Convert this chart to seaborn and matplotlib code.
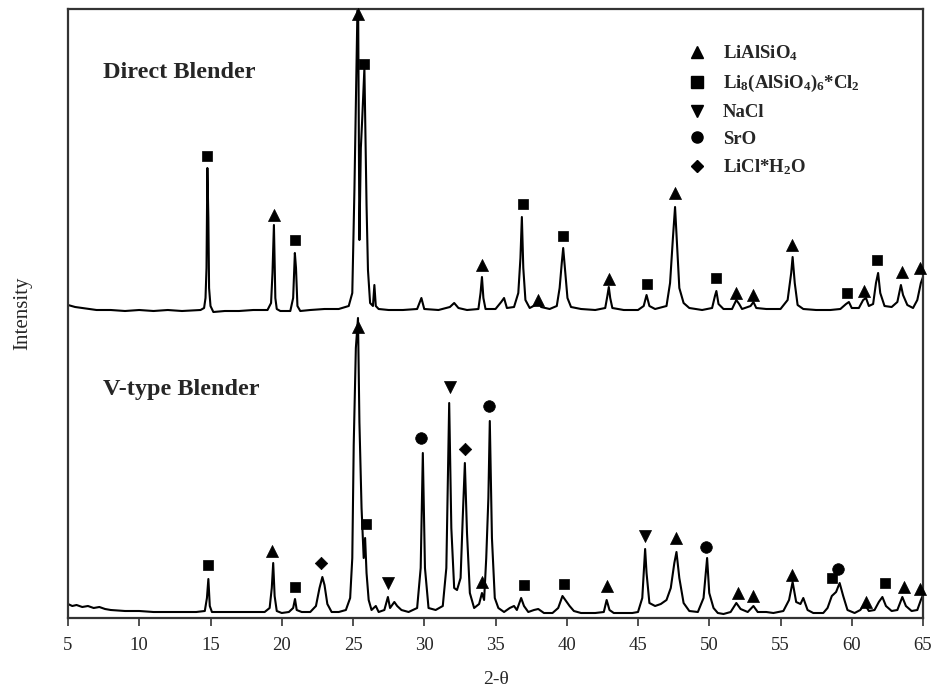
import matplotlib
matplotlib.use("Agg")
import matplotlib.pyplot as plt
from matplotlib.lines import Line2D
import seaborn as sns
import pandas as pd

# ---------------- data ----------------
direct_x = [5.0, 5.5, 6.0, 7.0, 8.0, 9.0, 10.0, 11.0, 12.0, 13.0, 14.3, 14.55, 14.65, 14.72, 14.78, 14.85, 14.9, 15.0, 15.2,
            16.0, 17.0, 18.0, 19.0, 19.25, 19.35, 19.45, 19.55, 19.65, 19.9, 20.6, 20.8, 20.92, 21.0, 21.1, 21.3,
            22.0, 23.0, 24.0, 24.7, 24.95, 25.1, 25.25, 25.35, 25.45, 25.55, 25.65, 25.8, 25.95, 26.05, 26.2, 26.4,
            26.5, 26.6, 26.8, 27.5, 28.5, 29.5, 29.8, 30.0, 31.0, 31.8, 32.1, 32.4, 33.0, 33.8, 33.95, 34.05, 34.15,
            34.3, 35.0, 35.4, 35.6, 35.8, 36.3, 36.6, 36.75, 36.85, 36.95, 37.1, 37.4, 37.8, 38.0, 38.2, 38.8, 39.3,
            39.5, 39.65, 39.75, 39.9, 40.05, 40.3, 41.0, 42.0, 42.7, 42.85, 42.95, 43.05, 43.2, 44.0, 45.0, 45.4,
            45.6, 45.8, 46.2, 47.0, 47.25, 47.45, 47.6, 47.75, 47.9, 48.2, 48.6, 49.5, 50.2, 50.4, 50.5, 50.65,
            51.0, 51.6, 51.9, 52.1, 52.3, 52.9, 53.1, 53.3, 54.0, 55.0, 55.5, 55.75, 55.85, 56.0, 56.2, 56.6, 57.5,
            58.5, 59.2, 59.6, 59.8, 60.0, 60.5, 60.8, 61.0, 61.2, 61.5, 61.7, 61.85, 62.0, 62.3, 62.8, 63.2, 63.45,
            63.6, 63.9, 64.3, 64.6, 64.85, 65.0]
direct_y = [313, 311, 310, 308, 308, 307, 308, 307, 308, 307, 308, 310, 320, 350, 450, 400, 330, 312, 306,
            307, 307, 308, 308, 315, 345, 393, 320, 309, 307, 307, 320, 365, 350, 312, 307,
            308, 309, 309, 312, 325, 428, 560, 640, 378, 470, 500, 550, 413, 348, 315, 312,
            333, 312, 309, 308, 308, 309, 320, 309, 308, 311, 315, 310, 308, 309, 325, 341, 320,
            309, 309, 316, 320, 310, 311, 325, 360, 401, 350, 318, 310, 313, 318, 311, 309, 312,
            330, 355, 370, 345, 320, 311, 309, 308, 310, 322, 331, 320, 310, 308, 308, 312,
            323, 312, 309, 312, 335, 380, 411, 370, 330, 315, 310, 308, 310, 322, 327, 314,
            309, 309, 318, 314, 309, 312, 316, 310, 309, 309, 318, 345, 361, 335, 313, 309, 308,
            308, 309, 314, 316, 310, 310, 318, 320, 312, 314, 335, 345, 325, 312, 311, 316, 333,
            323, 313, 310, 318, 335, 341]

vtype_x = [5.0, 5.3, 5.6, 6.0, 6.4, 6.8, 7.2, 7.6, 8.0, 9.0, 10.0, 11.0, 12.0, 13.0, 14.0, 14.6, 14.75, 14.85, 14.95,
           15.1, 16.0, 17.0, 18.0, 18.8, 19.15, 19.3, 19.4, 19.5, 19.65, 20.0, 20.5, 20.8, 20.93, 21.05, 21.4,
           22.0, 22.4, 22.65, 22.85, 23.0, 23.2, 23.5, 24.0, 24.5, 24.8, 24.95, 25.05, 25.2, 25.35, 25.45, 25.6,
           25.75, 25.85, 25.95, 26.1, 26.3, 26.6, 26.8, 27.2, 27.45, 27.6, 27.9, 28.1, 28.4, 28.9, 29.5, 29.75,
           29.9, 30.05, 30.3, 30.8, 31.3, 31.55, 31.75, 31.9, 32.1, 32.3, 32.55, 32.7, 32.85, 33.0, 33.2, 33.5,
           33.85, 34.05, 34.2, 34.35, 34.5, 34.6, 34.75, 34.95, 35.2, 35.6, 36.0, 36.3, 36.5, 36.8, 37.0, 37.3,
           37.7, 38.0, 38.4, 39.0, 39.4, 39.7, 39.9, 40.2, 40.5, 41.0, 42.0, 42.6, 42.8, 43.0, 43.3, 44.0, 44.6,
           45.0, 45.3, 45.5, 45.6, 45.8, 46.2, 46.6, 47.0, 47.3, 47.55, 47.7, 47.9, 48.2, 48.6, 49.2, 49.6, 49.85,
           50.0, 50.3, 50.6, 51.0, 51.5, 51.9, 52.2, 52.7, 53.1, 53.4, 54.0, 54.5, 55.2, 55.6, 55.85, 56.1, 56.4,
           56.6, 56.9, 57.3, 58.0, 58.3, 58.6, 58.9, 59.15, 59.4, 59.7, 60.2, 60.6, 60.9, 61.2, 61.6, 61.9, 62.15,
           62.4, 62.8, 63.2, 63.55, 63.8, 64.2, 64.6, 64.85, 65.0]
vtype_y = [14, 12, 13, 11, 12, 10, 11, 9, 8, 7, 7, 6, 6, 6, 6, 7, 20, 39, 12,
           6, 6, 6, 6, 6, 10, 30, 55, 22, 7, 5, 6, 10, 19, 8, 6,
           6, 12, 30, 41, 33, 14, 6, 6, 8, 20, 60, 173, 270, 300, 196, 110,
           60, 80, 45, 18, 8, 12, 6, 8, 21, 10, 16, 12, 8, 6, 10, 50,
           165, 50, 10, 8, 12, 50, 215, 90, 30, 28, 40, 100, 155, 85, 25, 10,
           14, 25, 18, 60, 120, 197, 80, 20, 10, 6, 10, 12, 8, 20, 12, 6,
           8, 9, 5, 5, 10, 22, 18, 12, 7, 5, 5, 6, 18, 8, 5, 5, 5,
           6, 20, 69, 45, 15, 12, 14, 18, 30, 55, 66, 40, 15, 7, 6, 20, 60,
           25, 10, 5, 4, 6, 15, 9, 6, 12, 6, 6, 5, 7, 18, 36, 16, 14,
           20, 8, 5, 5, 10, 22, 26, 35, 22, 8, 5, 8, 14, 7, 8, 16, 21,
           12, 7, 8, 21, 12, 7, 8, 18, 23]

phases = ["LiAlSiO4", "Li8(AlSiO4)6*Cl2", "NaCl", "SrO", "LiCl*H2O"]
phase_labels = [r"LiAlSiO$_{4}$", r"Li$_{8}$(AlSiO$_{4}$)$_{6}$*Cl$_{2}$", "NaCl", "SrO", r"LiCl*H$_{2}$O"]

direct_mark_phase = ["Li8(AlSiO4)6*Cl2", "LiAlSiO4", "Li8(AlSiO4)6*Cl2", "LiAlSiO4", "Li8(AlSiO4)6*Cl2",
                     "LiAlSiO4", "Li8(AlSiO4)6*Cl2", "LiAlSiO4", "Li8(AlSiO4)6*Cl2", "LiAlSiO4",
                     "Li8(AlSiO4)6*Cl2", "LiAlSiO4", "Li8(AlSiO4)6*Cl2", "LiAlSiO4", "LiAlSiO4",
                     "LiAlSiO4", "Li8(AlSiO4)6*Cl2", "LiAlSiO4", "Li8(AlSiO4)6*Cl2", "LiAlSiO4", "LiAlSiO4"]
direct_mark_x = [14.75, 19.45, 20.93, 25.35, 25.75, 34.05, 36.9, 38.0, 39.75, 42.95,
                 45.6, 47.6, 50.5, 51.9, 53.1, 55.8, 59.7, 60.85, 61.8, 63.5, 64.8]
direct_mark_y = [462, 403, 378, 604, 554, 353, 414, 318, 382, 339,
                 334, 425, 340, 325, 323, 373, 325, 327, 358, 346, 350]

vtype_mark_phase = ["Li8(AlSiO4)6*Cl2", "LiAlSiO4", "Li8(AlSiO4)6*Cl2", "LiCl*H2O", "LiAlSiO4",
                    "Li8(AlSiO4)6*Cl2", "NaCl", "SrO", "NaCl", "LiCl*H2O", "LiAlSiO4", "SrO",
                    "Li8(AlSiO4)6*Cl2", "Li8(AlSiO4)6*Cl2", "LiAlSiO4", "NaCl", "LiAlSiO4", "SrO",
                    "LiAlSiO4", "LiAlSiO4", "LiAlSiO4", "Li8(AlSiO4)6*Cl2", "SrO", "LiAlSiO4",
                    "Li8(AlSiO4)6*Cl2", "LiAlSiO4", "LiAlSiO4"]
vtype_mark_x = [14.85, 19.35, 20.93, 22.75, 25.35, 25.9, 27.45, 29.77, 31.8, 32.86, 34.05, 34.55,
                37.0, 39.8, 42.85, 45.5, 47.7, 49.8, 52.0, 53.1, 55.8, 58.6, 59.0, 61.0,
                62.3, 63.7, 64.8]
vtype_mark_y = [53, 67, 31, 55, 291, 94, 35, 180, 231, 169, 36, 212,
                33, 34, 32, 82, 80, 71, 25, 22, 43, 40, 49, 16,
                35, 31, 29]

x_ticks = [5, 10, 15, 20, 25, 30, 35, 40, 45, 50, 55, 60, 65]

# ---------------- styling ----------------
sns.set_style("white")
plt.rcParams["font.family"] = ["Liberation Serif", "DejaVu Serif"]
plt.rcParams["mathtext.fontset"] = "custom"
plt.rcParams["mathtext.rm"] = "Liberation Serif:bold"
plt.rcParams["mathtext.it"] = "Liberation Serif:bold"
plt.rcParams["mathtext.bf"] = "Liberation Serif:bold"

marker_map = {"LiAlSiO4": "^", "Li8(AlSiO4)6*Cl2": "s", "NaCl": "v", "SrO": "o", "LiCl*H2O": "D"}
size_map = {"LiAlSiO4": 75, "Li8(AlSiO4)6*Cl2": 60, "NaCl": 75, "SrO": 70, "LiCl*H2O": 40}

fig = plt.figure(figsize=(9.32, 6.95), dpi=100)
ax = fig.add_axes([68 / 932, 1 - 618 / 695, (923 - 68) / 932, (618 - 9) / 695])

trace = pd.concat([
    pd.DataFrame({"two_theta": direct_x, "intensity": direct_y, "sample": "Direct Blender"}),
    pd.DataFrame({"two_theta": vtype_x, "intensity": vtype_y, "sample": "V-type Blender"}),
])
for name, sub in trace.groupby("sample"):
    sns.lineplot(data=sub, x="two_theta", y="intensity", ax=ax, color="black",
                 linewidth=1.5, estimator=None, sort=False, legend=False)

marks = pd.concat([
    pd.DataFrame({"two_theta": direct_mark_x, "intensity": direct_mark_y, "phase": direct_mark_phase}),
    pd.DataFrame({"two_theta": vtype_mark_x, "intensity": vtype_mark_y, "phase": vtype_mark_phase}),
])
for ph in phases:
    sub = marks[marks["phase"] == ph]
    sns.scatterplot(data=sub, x="two_theta", y="intensity", ax=ax, color="black",
                    marker=marker_map[ph], s=size_map[ph], edgecolor="black",
                    linewidth=0.5, legend=False, clip_on=False, zorder=5)

ax.set_xlim(5, 65)
ax.set_ylim(0, 609)
ax.set_xticks(x_ticks)
ax.set_xticklabels([str(t) for t in x_ticks], fontsize=13.5)
ax.set_yticks([])
ax.tick_params(axis="x", direction="out", length=6, width=1.2, color="#333333", pad=8, bottom=True)
for sp in ax.spines.values():
    sp.set_color("#333333")
    sp.set_linewidth(1.6)

ax.set_xlabel("2-θ", fontsize=14, labelpad=12)
ax.set_ylabel("Intensity", fontsize=15, labelpad=26)

ax.text(0.041, 0.895, "Direct Blender", transform=ax.transAxes, fontsize=17.5,
        fontweight="bold", va="center", ha="left")
ax.text(0.041, 0.375, "V-type Blender", transform=ax.transAxes, fontsize=17.5,
        fontweight="bold", va="center", ha="left")

handles = [Line2D([], [], linestyle="none", marker=marker_map[p], color="black",
                  markersize=8 if marker_map[p] != "D" else 6) for p in phases]
leg = ax.legend(handles, phase_labels, loc="upper left", bbox_to_anchor=(0.725, 0.943),
                frameon=False, handlelength=1.0, handletextpad=0.85, labelspacing=0.52,
                borderpad=0, borderaxespad=0, prop={"family": "Liberation Serif", "weight": "bold", "size": 13.5})

fig.savefig("out.png", dpi=100)
